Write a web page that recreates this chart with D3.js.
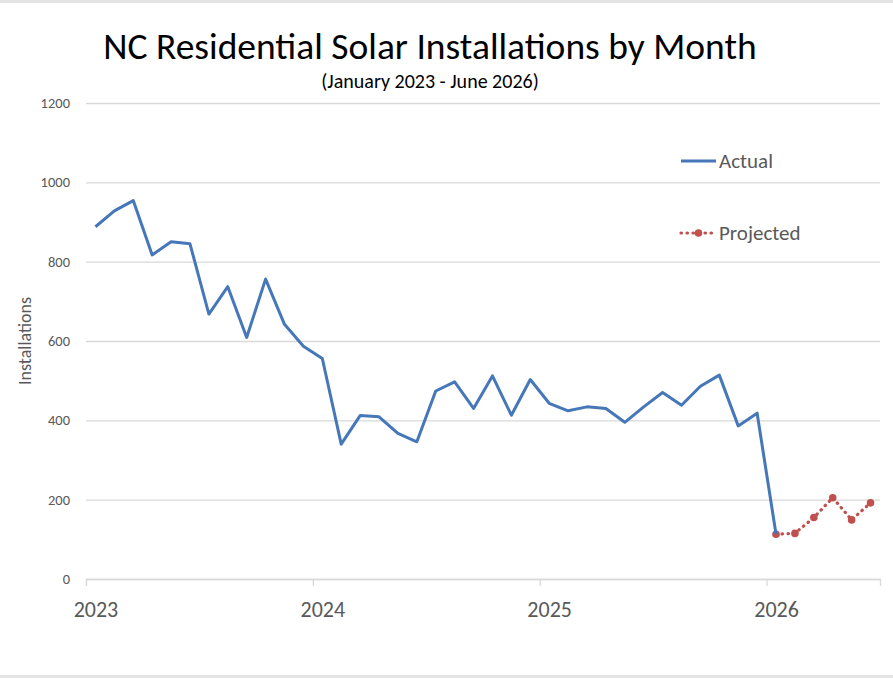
<!DOCTYPE html>
<html>
<head>
<meta charset="utf-8">
<script src="https://cdn.jsdelivr.net/npm/d3@7"></script>
<style>
  body { margin: 0; background: #fff; }
  text { font-family: Carlito, Calibri, Lato, sans-serif; }
</style>
</head>
<body>
<div id="chart"></div>
<script>
// monthly values, Jan 2023 .. Jan 2026
var actual = [
    888, 928, 954, 817, 850, 845, 668, 737, 609, 756, 642, 587,
    556, 340, 412, 409, 367, 346, 474, 497, 430, 512, 413, 503,
    443, 424, 434, 430, 395, 434, 470, 438, 486, 514, 386, 418,
    113
];
// Jan 2026 .. Jun 2026
var projected = [113, 115, 155, 205, 149, 192];
var projectedStart = 36;
var years = ["2023", "2024", "2025", "2026"];
var yTicks = [0, 200, 400, 600, 800, 1000, 1200];

var width = 893,
    height = 678;

var x = d3.scaleLinear().domain([0, 42]).range([86, 880]),
    y = d3.scaleLinear().domain([0, 1200]).range([579, 103]);

var svg = d3.select("#chart").append("svg")
    .attr("width", width)
    .attr("height", height);

// frame bands
svg.append("rect").attr("x", 0).attr("y", 0).attr("width", width).attr("height", 3).attr("fill", "#e4e4e4");
svg.append("rect").attr("x", 0).attr("y", 675).attr("width", width).attr("height", 3).attr("fill", "#e4e4e4");

svg.append("text")
    .attr("x", 430)
    .attr("y", 59)
    .attr("text-anchor", "middle")
    .style("font-size", "37.5px")
    .style("font-weight", 300)
    .style("fill", "#000")
    .text("NC Residential Solar Installations by Month");

svg.append("text")
    .attr("x", 430)
    .attr("y", 88)
    .attr("text-anchor", "middle")
    .style("font-size", "20px")
    .style("font-weight", 300)
    .style("fill", "#000")
    .text("(January 2023 - June 2026)");

// y gridlines + labels
var yAxis = svg.append("g")
    .attr("transform", "translate(" + x(0) + ",0)")
    .call(d3.axisLeft(y).tickValues(yTicks).tickSize(-(x(42) - x(0))).tickPadding(16).tickFormat(d3.format("d")));
yAxis.select(".domain").remove();
yAxis.selectAll(".tick line").attr("stroke", "#d9d9d9").attr("stroke-width", 1.3);
yAxis.selectAll(".tick text").style("font-size", "14.5px").style("fill", "#595959");

svg.append("text")
    .attr("transform", "translate(31,341)rotate(-90)")
    .attr("text-anchor", "middle")
    .style("font-size", "18px")
    .style("fill", "#595959")
    .text("Installations");

// x axis, ticks at each January, labels centered on the January point
var xAxis = svg.append("g")
    .attr("transform", "translate(0," + y(0) + ")")
    .call(d3.axisBottom(x).tickValues([0, 12, 24, 36]).tickSize(7).tickPadding(15)
        .tickFormat(function (d, i) { return years[i]; }));
xAxis.select(".domain").attr("stroke", "#d9d9d9").attr("stroke-width", 1.3);
xAxis.selectAll(".tick line").attr("stroke", "#d9d9d9").attr("stroke-width", 1.3);
xAxis.selectAll(".tick text")
    .attr("dx", x(0.5) - x(0))
    .style("font-size", "22px")
    .style("fill", "#595959");

var line = d3.line()
    .x(function (d) { return x(d.i + 0.5); })
    .y(function (d) { return y(d.v); });

var actualPts = actual.map(function (v, i) { return {i: i, v: v}; });
var projPts = projected.map(function (v, i) { return {i: projectedStart + i, v: v}; });

svg.append("path")
    .datum(projPts)
    .attr("d", line)
    .attr("fill", "none")
    .attr("stroke", "#c0504d")
    .attr("stroke-width", 3.2)
    .attr("stroke-linecap", "round")
    .attr("stroke-dasharray", "0.5,5.5");

svg.selectAll(".proj")
    .data(projPts)
    .enter().append("circle")
    .attr("class", "proj")
    .attr("cx", function (d) { return x(d.i + 0.5); })
    .attr("cy", function (d) { return y(d.v); })
    .attr("r", 3.8)
    .attr("fill", "#c0504d");

svg.append("path")
    .datum(actualPts)
    .attr("d", line)
    .attr("fill", "none")
    .attr("stroke", "#4577b9")
    .attr("stroke-width", 3)
    .attr("stroke-linejoin", "round");

// legend
var legend = svg.append("g");
legend.append("line")
    .attr("x1", 681).attr("x2", 716).attr("y1", 161).attr("y2", 161)
    .attr("stroke", "#4577b9").attr("stroke-width", 3);
legend.append("text")
    .attr("x", 719).attr("y", 168)
    .style("font-size", "21px").style("fill", "#595959")
    .text("Actual");
legend.append("line")
    .attr("x1", 681).attr("x2", 716).attr("y1", 233).attr("y2", 233)
    .attr("stroke", "#c0504d").attr("stroke-width", 3.2)
    .attr("stroke-linecap", "round").attr("stroke-dasharray", "0.5,5.5");
legend.append("circle")
    .attr("cx", 698.5).attr("cy", 233).attr("r", 3.8).attr("fill", "#c0504d");
legend.append("text")
    .attr("x", 719).attr("y", 240)
    .style("font-size", "21px").style("fill", "#595959")
    .text("Projected");
</script>
</body>
</html>
